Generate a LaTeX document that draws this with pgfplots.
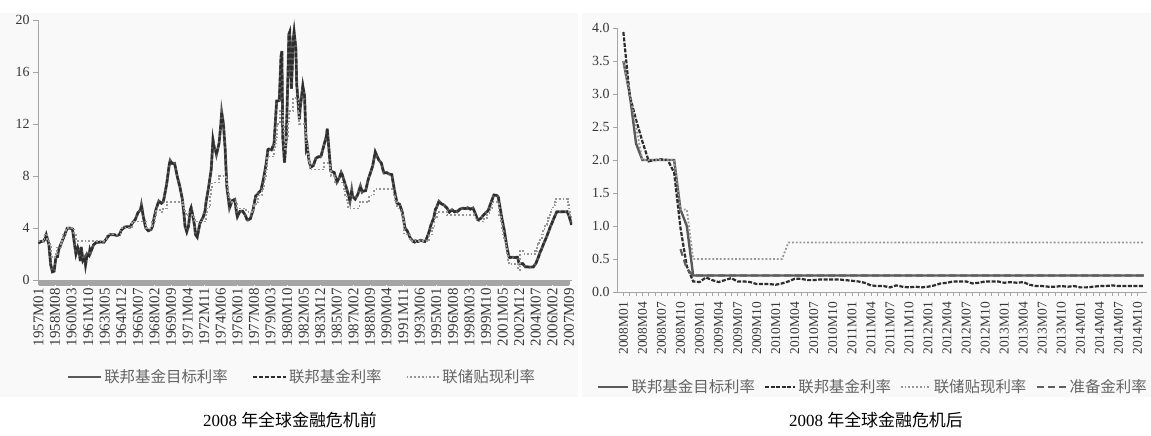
\documentclass[border=0pt]{standalone}
\usepackage{pgfplots}
\pgfplotsset{compat=1.18}
\usepackage{pgfplotstable}
\usepackage{fontspec}
\setmainfont{Liberation Serif}
\newfontfamily\cjk{Noto Sans CJK SC}
\definecolor{bgc}{RGB}{249,249,249}
\definecolor{axc}{RGB}{165,165,165}
\definecolor{tgtc}{RGB}{90,90,90}
\definecolor{ffc}{RGB}{45,45,45}
\definecolor{drc}{RGB}{150,150,150}
\definecolor{iorc}{RGB}{95,95,95}
\definecolor{txtc}{RGB}{55,55,55}
\definecolor{legc}{RGB}{100,100,100}

% Fed funds rate, pre-crisis (month index from 1957M01)
\pgfplotstableread{
idx ff
0 2.84
3 2.96
6 2.99
8 3.24
9 3.47
11 2.98
12 2.72
14 1.20
16 0.63
18 0.68
20 1.76
22 1.80
23 2.27
24 2.48
27 2.96
30 3.47
33 3.98
35 3.99
36 3.99
39 3.92
41 2.92
43 2.00
45 2.47
47 1.98
48 1.45
49 2.54
51 1.50
53 1.73
54 1.17
56 2.00
58 1.88
59 2.33
60 2.15
63 2.69
66 2.88
69 2.90
71 2.93
72 2.92
75 2.90
78 3.18
81 3.45
83 3.50
84 3.48
87 3.48
90 3.42
93 3.50
95 3.85
96 3.90
99 4.08
102 4.10
105 4.07
107 4.32
108 4.42
111 4.65
114 5.17
117 5.40
118 5.77
119 5.40
120 4.94
123 4.00
126 3.79
129 3.88
131 4.17
132 4.60
135 5.50
138 6.07
141 5.90
143 6.02
144 6.30
147 7.40
150 8.90
151 9.19
153 8.97
155 8.97
156 8.98
159 8.00
162 7.20
165 6.20
167 4.90
168 4.14
170 3.71
172 4.15
174 5.40
175 5.57
177 4.91
179 4.14
180 3.50
182 3.30
185 4.35
189 4.87
191 5.33
192 5.94
195 7.12
198 8.50
200 10.78
202 10.00
203 9.95
204 9.65
207 10.51
209 11.93
210 12.92
212 12.01
214 10.06
215 8.53
216 7.13
219 5.54
222 6.10
225 6.20
227 5.20
228 4.87
231 5.29
234 5.30
237 5.00
239 4.65
240 4.61
243 4.73
246 5.42
249 6.47
251 6.56
252 6.70
255 6.89
258 7.81
261 8.96
263 10.03
264 10.07
267 10.01
270 10.47
273 13.77
275 13.78
276 13.82
278 17.19
279 17.61
280 10.98
282 9.03
284 10.87
286 15.85
287 18.90
288 19.08
290 14.70
292 18.52
293 19.10
295 17.82
296 15.08
298 13.31
299 12.37
300 13.22
303 14.94
305 14.15
307 10.12
308 10.31
310 9.20
311 8.95
312 8.68
315 8.80
318 9.37
321 9.48
323 9.47
324 9.56
327 10.32
330 11.06
331 11.64
333 9.99
335 8.38
336 8.35
339 8.27
342 7.53
345 7.90
347 8.28
348 8.14
351 7.48
354 6.85
357 6.04
359 6.91
360 6.43
363 6.22
366 6.58
369 7.22
371 6.77
372 6.83
375 6.87
378 7.75
381 8.35
383 8.76
384 9.12
386 9.85
390 9.24
393 8.99
395 8.45
396 8.23
399 8.26
402 8.15
405 8.11
407 7.31
408 6.91
411 5.91
414 5.82
417 5.21
419 4.43
420 4.03
423 3.73
426 3.25
429 2.99
431 2.92
432 3.02
435 2.96
438 3.06
441 2.99
443 2.96
444 3.05
447 3.56
450 4.26
453 4.76
455 5.45
456 5.53
459 6.05
462 5.85
465 5.76
467 5.60
468 5.56
471 5.22
474 5.40
477 5.24
479 5.29
480 5.25
483 5.45
486 5.52
489 5.50
491 5.50
492 5.56
495 5.45
498 5.54
501 5.07
503 4.68
504 4.63
507 4.74
510 4.99
513 5.20
515 5.30
516 5.45
519 6.02
522 6.54
525 6.51
527 6.40
528 5.98
531 4.80
534 3.77
537 2.49
539 1.82
540 1.73
543 1.75
546 1.73
549 1.75
551 1.24
552 1.24
555 1.26
558 1.01
561 1.01
563 0.98
564 1.00
567 1.00
570 1.26
573 1.76
575 2.16
576 2.28
579 2.79
582 3.26
585 3.78
587 4.16
588 4.29
591 4.79
594 5.24
597 5.25
599 5.24
600 5.25
603 5.25
606 5.26
608 4.94
610 4.49
611 4.24
}\preFF

% Discount rate, pre-crisis (steps)
\pgfplotstableread{
idx dr
0 3.0
7 3.5
10 3.0
12 2.75
14 2.25
15 1.75
19 2.0
21 2.5
26 3.0
28 3.5
32 4.0
41 3.5
43 3.0
78 3.5
94 4.0
107 4.5
123 4.0
130 4.5
134 5.0
135 5.5
139 5.25
143 5.5
147 6.0
166 5.75
167 5.5
168 5.25
169 5.0
178 4.75
179 4.5
192 5.0
193 5.5
196 5.75
197 6.5
198 7.0
199 7.5
207 8.0
215 7.75
216 7.25
217 6.75
218 6.25
220 6.0
228 5.5
238 5.25
247 5.75
249 6.0
252 6.5
256 7.0
258 7.25
259 7.75
260 8.0
261 8.5
262 9.5
270 10.0
271 10.5
272 11.0
273 12.0
277 13.0
280 12.0
281 11.0
282 10.0
284 11.0
286 12.0
287 13.0
292 14.0
298 13.0
299 12.0
306 11.5
307 10.5
309 9.5
310 9.0
311 8.5
327 9.0
334 8.5
335 8.0
340 7.5
350 7.0
351 6.5
354 6.0
355 5.5
368 6.0
379 6.5
385 7.0
407 6.5
409 6.0
411 5.5
416 5.0
418 4.5
419 3.5
426 3.0
448 3.5
451 4.0
454 4.75
457 5.25
468 5.0
501 4.75
502 4.5
511 4.75
514 5.0
517 5.25
518 5.5
520 6.0
528 5.0
530 4.5
531 4.0
532 3.5
533 3.25
535 3.0
536 2.5
537 2.0
538 1.5
539 1.25
550 0.75
552 2.25
557 2.0
569 2.25
571 2.5
572 2.75
574 3.0
575 3.25
577 3.5
578 3.75
580 4.0
581 4.25
583 4.5
584 4.75
586 5.0
587 5.25
588 5.5
590 5.75
592 6.0
593 6.25
607 5.75
608 5.25
609 5.0
611 4.75
}\preDR

% Post-crisis (month index from 2008M01)
\pgfplotstableread{
idx ff tgt dr ior
0 3.94 3.50 3.50 nan
1 2.98 3.00 3.00 nan
2 2.61 2.25 2.50 nan
3 2.28 2.00 2.00 nan
4 1.98 2.00 2.00 nan
5 2.00 2.00 2.00 nan
6 2.01 2.00 2.00 nan
7 2.00 2.00 2.00 nan
8 1.81 2.00 2.00 nan
9 0.97 1.25 1.25 0.65
10 0.39 1.00 1.25 0.35
11 0.16 0.25 0.50 0.25
12 0.15 0.25 0.50 0.25
13 0.22 0.25 0.50 0.25
14 0.18 0.25 0.50 0.25
15 0.15 0.25 0.50 0.25
16 0.18 0.25 0.50 0.25
17 0.21 0.25 0.50 0.25
18 0.16 0.25 0.50 0.25
19 0.16 0.25 0.50 0.25
20 0.15 0.25 0.50 0.25
21 0.12 0.25 0.50 0.25
22 0.12 0.25 0.50 0.25
23 0.12 0.25 0.50 0.25
24 0.11 0.25 0.50 0.25
25 0.13 0.25 0.50 0.25
26 0.16 0.25 0.75 0.25
27 0.20 0.25 0.75 0.25
28 0.20 0.25 0.75 0.25
29 0.18 0.25 0.75 0.25
30 0.18 0.25 0.75 0.25
31 0.19 0.25 0.75 0.25
32 0.19 0.25 0.75 0.25
33 0.19 0.25 0.75 0.25
34 0.19 0.25 0.75 0.25
35 0.18 0.25 0.75 0.25
36 0.17 0.25 0.75 0.25
37 0.16 0.25 0.75 0.25
38 0.14 0.25 0.75 0.25
39 0.10 0.25 0.75 0.25
40 0.09 0.25 0.75 0.25
41 0.09 0.25 0.75 0.25
42 0.07 0.25 0.75 0.25
43 0.10 0.25 0.75 0.25
44 0.08 0.25 0.75 0.25
45 0.07 0.25 0.75 0.25
46 0.08 0.25 0.75 0.25
47 0.07 0.25 0.75 0.25
48 0.08 0.25 0.75 0.25
49 0.10 0.25 0.75 0.25
50 0.13 0.25 0.75 0.25
51 0.14 0.25 0.75 0.25
52 0.16 0.25 0.75 0.25
53 0.16 0.25 0.75 0.25
54 0.16 0.25 0.75 0.25
55 0.13 0.25 0.75 0.25
56 0.14 0.25 0.75 0.25
57 0.16 0.25 0.75 0.25
58 0.16 0.25 0.75 0.25
59 0.16 0.25 0.75 0.25
60 0.14 0.25 0.75 0.25
61 0.15 0.25 0.75 0.25
62 0.14 0.25 0.75 0.25
63 0.15 0.25 0.75 0.25
64 0.11 0.25 0.75 0.25
65 0.09 0.25 0.75 0.25
66 0.09 0.25 0.75 0.25
67 0.08 0.25 0.75 0.25
68 0.08 0.25 0.75 0.25
69 0.09 0.25 0.75 0.25
70 0.08 0.25 0.75 0.25
71 0.09 0.25 0.75 0.25
72 0.07 0.25 0.75 0.25
73 0.07 0.25 0.75 0.25
74 0.08 0.25 0.75 0.25
75 0.09 0.25 0.75 0.25
76 0.09 0.25 0.75 0.25
77 0.10 0.25 0.75 0.25
78 0.09 0.25 0.75 0.25
79 0.09 0.25 0.75 0.25
80 0.09 0.25 0.75 0.25
81 0.09 0.25 0.75 0.25
82 0.09 0.25 0.75 0.25
}\post

\pgfplotsset{
  mystyle/.style={
    scale only axis,
    axis lines*=left,
    axis line style={axc, line width=0.8bp},
    tick style={axc, line width=0.6bp},
    tick align=outside,
    ticklabel style={txtc},
    /pgf/number format/assume math mode=true,
    xticklabel style={rotate=90, anchor=east},
    legend columns=-1,
    legend cell align=left,
    legend style={draw=none, fill=none, font=\cjk\fontsize{15.5}{16}\selectfont, text=legc,
      anchor=center, inner sep=0pt},
  }
}

\begin{document}
\begin{tikzpicture}
\useasboundingbox (0,0) rectangle (1151bp,436bp);
\fill[bgc] (0bp,39bp) rectangle (578bp,423bp);
\fill[bgc] (582bp,39bp) rectangle (1151bp,423bp);

\begin{axis}[mystyle,
  at={(38bp,156bp)}, anchor=south west, width=534bp, height=260bp,
  xmin=-0.5, xmax=611.5, ymin=0, ymax=20,
  ytick={0,4,...,20},
  xtick={0,19,...,608}, minor x tick num=18,
  major tick length=5bp, minor tick length=6bp,
  xticklabels={1957M01,1958M08,1960M03,1961M10,1963M05,1964M12,1966M07,1968M02,1969M09,1971M04,1972M11,1974M06,1976M01,1977M08,1979M03,1980M10,1982M05,1983M12,1985M07,1987M02,1988M09,1990M04,1991M11,1993M06,1995M01,1996M08,1998M03,1999M10,2001M05,2002M12,2004M07,2006M02,2007M09},
  xticklabel style={font=\fontsize{15}{15}\selectfont, inner sep=3bp},
  yticklabel style={font=\fontsize{14}{14}\selectfont},
  legend image code/.code={\draw[#1] (0bp,0bp) -- (33bp,0bp);},
  legend style={at={(0.494,-0.373)}, /tikz/every even column/.append style={column sep=22bp}},
]
\addplot[tgtc, line width=2.8bp] table[x=idx,y=ff]{\preFF};
\addplot[ffc, line width=2.2bp, dash pattern=on 4bp off 2bp] table[x=idx,y=ff]{\preFF};
\addplot[drc, line width=1.8bp, dotted, const plot] table[x=idx,y=dr]{\preDR};
\legend{联邦基金目标利率, 联邦基金利率, 联储贴现利率}
\end{axis}

\begin{axis}[mystyle,
  at={(617bp,144bp)}, anchor=south west, width=530bp, height=264bp,
  xmin=-1, xmax=82.5, ymin=0, ymax=4,
  ytick={0,0.5,...,4},
  yticklabel={\pgfmathprintnumber[fixed,fixed zerofill,precision=1]{\tick}},
  xtick={0,3,...,81}, minor x tick num=2,
  major tick length=4bp, minor tick length=4bp,
  xticklabels={2008M01,2008M04,2008M07,2008M10,2009M01,2009M04,2009M07,2009M10,2010M01,2010M04,2010M07,2010M10,2011M01,2011M04,2011M07,2011M10,2012M01,2012M04,2012M07,2012M10,2013M01,2013M04,2013M07,2013M10,2014M01,2014M04,2014M07,2014M10},
  xticklabel style={font=\fontsize{13.5}{13.5}\selectfont, inner sep=6bp},
  yticklabel style={font=\fontsize{14}{14}\selectfont},
  legend image code/.code={\draw[#1] (0bp,0bp) -- (30bp,0bp);},
  legend style={at={(0.483,-0.36)}, /tikz/every even column/.append style={column sep=7bp}},
]
\addplot[tgtc, line width=2.4bp] table[x=idx,y=tgt]{\post};
\addplot[ffc, line width=2.2bp, dash pattern=on 4bp off 1.5bp] table[x=idx,y=ff]{\post};
\addplot[drc, line width=1.8bp, dotted] table[x=idx,y=dr]{\post};
\addplot[iorc, line width=2.2bp, dash pattern=on 7bp off 4bp] table[x=idx,y=ior]{\post};
\legend{联邦基金目标利率, 联邦基金利率, 联储贴现利率, 准备金利率}
\end{axis}

\node[font=\fontsize{17}{17}\selectfont, text=black] at (290bp,16bp) {2008 {\cjk 年全球金融危机前}};
\node[font=\fontsize{17}{17}\selectfont, text=black] at (876bp,16bp) {2008 {\cjk 年全球金融危机后}};
\end{tikzpicture}
\end{document}
